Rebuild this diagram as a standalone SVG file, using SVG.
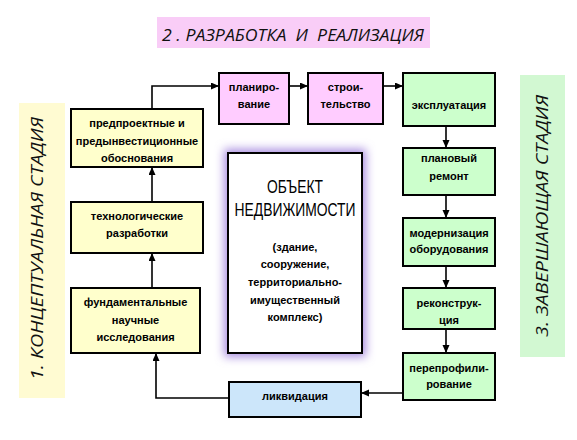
<svg xmlns="http://www.w3.org/2000/svg" width="577" height="440" viewBox="0 0 577 440">
<style>
.box{stroke:#000;stroke-width:2}
.y{fill:#ffffcc}.p{fill:#ffccff}.g{fill:#ccffcc}.b{fill:#cce6fa}
.t{font-family:"Liberation Sans",Arial,sans-serif;font-size:11px;font-weight:bold;text-anchor:middle;fill:#000}
.band{font-family:"Open Sans","Liberation Sans",sans-serif;font-size:17px;font-style:italic;text-anchor:middle;fill:#111}
.big{font-family:"Liberation Sans Narrow","Liberation Sans",sans-serif;font-size:18px;text-anchor:middle;fill:#000}
.c{fill:none;stroke:#000;stroke-width:1.6}
</style>
<defs>
<marker id="ah" markerUnits="userSpaceOnUse" markerWidth="9" markerHeight="8" refX="8" refY="3.5" orient="auto">
<path d="M0,0 L8,3.5 L0,7 z" fill="#000"/>
</marker>
<filter id="glow" x="-30%" y="-30%" width="160%" height="160%">
<feGaussianBlur stdDeviation="5"/>
</filter>
</defs>
<rect width="577" height="440" fill="#fff"/>
<g id="band-title">
<rect x="157" y="17" width="273" height="31" fill="#f9cdf7"/>
<text class="band" x="293" y="41" xml:space="preserve" textLength="262" lengthAdjust="spacingAndGlyphs">2 . РАЗРАБОТКА  И  РЕАЛИЗАЦИЯ</text>
</g>
<g id="band-left">
<rect x="19" y="103" width="46" height="295" fill="#fffbd2"/>
<text class="band" transform="translate(43,248.5) rotate(-90)" textLength="263" lengthAdjust="spacingAndGlyphs">1. КОНЦЕПТУАЛЬНАЯ СТАДИЯ</text>
</g>
<g id="band-right">
<rect x="520" y="75" width="45" height="282" fill="#d2f8d2"/>
<text class="band" transform="translate(548,216) rotate(-90)" textLength="242" lengthAdjust="spacingAndGlyphs">3. ЗАВЕРШАЮЩАЯ СТАДИЯ</text>
</g>
<g id="connectors">
<path class="c" d="M152,109 V86 H219" marker-end="url(#ah)"/>
<path class="c" d="M289,86 H308" marker-end="url(#ah)"/>
<path class="c" d="M383,86 H403" marker-end="url(#ah)"/>
<path class="c" d="M446,126 V148" marker-end="url(#ah)"/>
<path class="c" d="M446,195 V218" marker-end="url(#ah)"/>
<path class="c" d="M446,266 V288" marker-end="url(#ah)"/>
<path class="c" d="M446,329 V353" marker-end="url(#ah)"/>
<path class="c" d="M403,393 H361" marker-end="url(#ah)"/>
<path class="c" d="M229,398 H156 V353" marker-end="url(#ah)"/>
<path class="c" d="M152,202 V167" marker-end="url(#ah)"/>
<path class="c" d="M152,288 V253" marker-end="url(#ah)"/>
</g>
<g id="node-predproekt">
<rect class="box y" x="71" y="109" width="132" height="58"/>
<text class="t" x="137" y="127">предпроектные и</text>
<text class="t" x="137" y="145">предынвестиционные</text>
<text class="t" x="137" y="162">обоснования</text>
</g>
<g id="node-tehno">
<rect class="box y" x="71" y="202" width="132" height="51"/>
<text class="t" x="137" y="220">технологические</text>
<text class="t" x="137" y="237">разработки</text>
</g>
<g id="node-fund">
<rect class="box y" x="71" y="288" width="129" height="65"/>
<text class="t" x="135.5" y="306">фундаментальные</text>
<text class="t" x="135.5" y="324">научные</text>
<text class="t" x="135.5" y="341">исследования</text>
</g>
<g id="node-plan">
<rect class="box p" x="219" y="73" width="70" height="51"/>
<text class="t" x="254" y="91">планиро-</text>
<text class="t" x="254" y="108">вание</text>
</g>
<g id="node-stroi">
<rect class="box p" x="308" y="73" width="75" height="51"/>
<text class="t" x="345.5" y="91">строи-</text>
<text class="t" x="345.5" y="108">тельство</text>
</g>
<g id="node-expl">
<rect class="box g" x="403" y="73" width="92" height="53"/>
<text class="t" x="449" y="109">эксплуатация</text>
</g>
<g id="node-remont">
<rect class="box g" x="403" y="148" width="92" height="47"/>
<text class="t" x="449" y="162">плановый</text>
<text class="t" x="449" y="180">ремонт</text>
</g>
<g id="node-modern">
<rect class="box g" x="403" y="218" width="92" height="48"/>
<text class="t" x="449" y="237">модернизация</text>
<text class="t" x="449" y="253">оборудования</text>
</g>
<g id="node-rekon">
<rect class="box g" x="403" y="288" width="92" height="41"/>
<text class="t" x="449" y="307">реконструк-</text>
<text class="t" x="449" y="324">ция</text>
</g>
<g id="node-pereprof">
<rect class="box g" x="403" y="353" width="92" height="47"/>
<text class="t" x="449" y="372">перепрофили-</text>
<text class="t" x="449" y="388">рование</text>
</g>
<g id="node-likv">
<rect class="box b" x="229" y="382" width="132" height="35"/>
<text class="t" x="295" y="400">ликвидация</text>
</g>
<g id="node-object">
<rect x="224" y="149" width="142" height="208" fill="#a98ee0" filter="url(#glow)"/>
<rect class="box" x="228" y="153" width="134" height="200" fill="#fff"/>
<text class="big" x="295" y="193" textLength="56" lengthAdjust="spacingAndGlyphs">ОБЪЕКТ</text>
<text class="big" x="295" y="216" textLength="121" lengthAdjust="spacingAndGlyphs">НЕДВИЖИМОСТИ</text>
<text class="t" x="295" y="251">(здание,</text>
<text class="t" x="295" y="268">сооружение,</text>
<text class="t" x="295" y="286">территориально-</text>
<text class="t" x="295" y="304">имущественный</text>
<text class="t" x="295" y="321">комплекс)</text>
</g>
</svg>
